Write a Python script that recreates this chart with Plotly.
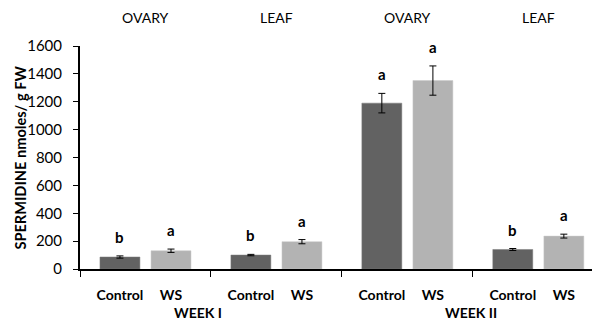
import plotly.graph_objects as go

groups = ["OVARY", "LEAF", "OVARY", "LEAF"]
weeks = ["WEEK I", "WEEK II"]
series_names = ["Control", "WS"]
control_vals = [86, 100, 1190, 140]
control_err = [8, 5, 70, 7]
ws_vals = [131, 196, 1352, 236]
ws_err = [12, 15, 105, 14]
control_letters = ["b", "b", "a", "b"]
ws_letters = ["a", "a", "a", "a"]
y_ticks = [0, 200, 400, 600, 800, 1000, 1200, 1400, 1600]

FONT = "Lato"
BAR_W = 0.305
CTRL_OFF = -0.195 - BAR_W / 2
WS_OFF = 0.195 - BAR_W / 2

xs = list(range(len(groups)))

fig = go.Figure()
fig.add_trace(go.Bar(
    x=xs, y=control_vals, name="Control", width=BAR_W, offset=CTRL_OFF,
    marker=dict(color="#626262", line=dict(color="#7a7a7a", width=0.5)),
    error_y=dict(type="data", array=control_err, color="black", thickness=1, width=3.5),
))
fig.add_trace(go.Bar(
    x=xs, y=ws_vals, name="WS", width=BAR_W, offset=WS_OFF,
    marker=dict(color="#b3b3b3", line=dict(color="#c8c8c8", width=0.5)),
    error_y=dict(type="data", array=ws_err, color="black", thickness=1, width=3.5),
))

tickvals, ticktext = [], []
for i in xs:
    tickvals += [i + CTRL_OFF + BAR_W / 2, i + WS_OFF + BAR_W / 2]
    ticktext += series_names

annotations = []
for i in xs:
    annotations.append(dict(x=i + CTRL_OFF + BAR_W / 2, y=control_vals[i] + control_err[i],
                            text=control_letters[i], showarrow=False, yanchor="bottom", yshift=8,
                            font=dict(family=FONT, size=15, color="black", weight="bold")))
    annotations.append(dict(x=i + WS_OFF + BAR_W / 2, y=ws_vals[i] + ws_err[i],
                            text=ws_letters[i], showarrow=False, yanchor="bottom", yshift=8,
                            font=dict(family=FONT, size=15, color="black", weight="bold")))
    annotations.append(dict(x=i, y=1.13, yref="paper", text=groups[i], showarrow=False,
                            xanchor="center", yanchor="middle",
                            font=dict(family=FONT, size=14, color="black")))

week_pos = [0.4, 2.485]
for w, xp in zip(weeks, week_pos):
    annotations.append(dict(x=xp, y=-0.197, yref="paper", text=w, showarrow=False,
                            xanchor="center", yanchor="middle",
                            font=dict(family=FONT, size=14, color="black", weight="bold")))

annotations.append(dict(x=-0.117, y=0.5, xref="paper", yref="paper", text="SPERMIDINE nmoles/ g FW",
                        textangle=-90, showarrow=False, xanchor="center", yanchor="middle",
                        font=dict(family=FONT, size=14.6, color="black", weight="bold")))

fig.update_layout(
    width=592, height=324,
    margin=dict(l=80, r=0, t=46, b=55, autoexpand=False),
    paper_bgcolor="white", plot_bgcolor="white",
    barmode="overlay", showlegend=False,
    annotations=annotations,
    font=dict(family=FONT, color="black"),
    separators=".",
)
fig.update_xaxes(
    range=[-0.5, 3.41], tickmode="array", tickvals=tickvals, ticktext=ticktext,
    ticks="", showgrid=False, zeroline=False, automargin=False,
    showline=True, linecolor="black", linewidth=2,
    tickfont=dict(family=FONT, size=14, color="black", weight="bold"),
    ticklabelstandoff=12,
    minor=dict(tickmode="linear", tick0=-0.5, dtick=1, ticks="outside", ticklen=6,
               tickcolor="black", tickwidth=1, showgrid=False),
)
fig.update_yaxes(
    range=[0, 1600], tickmode="array", tickvals=y_ticks, ticktext=[str(v) for v in y_ticks],
    ticks="outside", ticklen=5, tickcolor="black", tickwidth=1,
    showgrid=False, zeroline=False, automargin=False,
    showline=True, linecolor="black", linewidth=2,
    tickfont=dict(family=FONT, size=15, color="black"),
    ticklabelstandoff=8,
)

fig.write_html("out.html", config={"displayModeBar": False},
               post_script="document.body.style.margin='0px';")
